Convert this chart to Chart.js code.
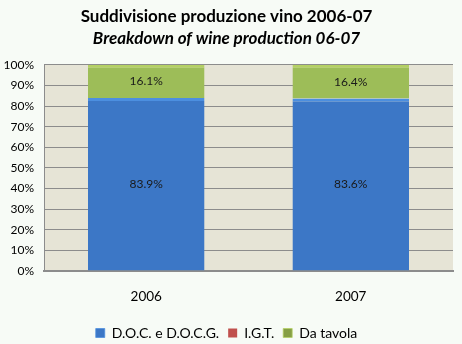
<!DOCTYPE html>
<html>
<head>
<meta charset="utf-8">
<script src="https://cdn.jsdelivr.net/npm/chart.js@4"></script>
<style>
  html, body { margin: 0; padding: 0; background: #f7fbf6; }
  #wrap { width: 462px; height: 344px; }
</style>
</head>
<body>
<div id="wrap"><canvas id="chart"></canvas></div>
<script>
const years = ['2006', '2007'];
const docValues = [83.9, 83.6];
const igtValues = [0, 0];
const tavolaValues = [16.1, 16.4];
const seriesNames = ['D.O.C. e D.O.C.G.', 'I.G.T.', 'Da tavola'];

const FONT = 'Lato, "Open Sans", sans-serif';

// fondo beige dell'area del grafico
const plotBg = {
    id: 'plotBg',
    beforeDraw(chart) {
        const a = chart.chartArea;
        const ctx = chart.ctx;
        ctx.save();
        ctx.fillStyle = '#e6e4d6';
        ctx.fillRect(a.left, a.top, a.right - a.left, a.bottom - a.top);
        ctx.restore();
    }
};

// etichette percentuali al centro delle barre
const barLabels = {
    id: 'barLabels',
    afterDatasetsDraw(chart) {
        const ctx = chart.ctx;
        ctx.save();
        ctx.font = '12px ' + FONT;
        ctx.fillStyle = '#1a1a1a';
        ctx.textAlign = 'center';
        ctx.textBaseline = 'middle';
        chart.data.datasets.forEach((ds, i) => {
            chart.getDatasetMeta(i).data.forEach((bar, j) => {
                const v = ds.data[j];
                if (!v) return;
                const mid = (bar.y + bar.base) / 2;
                ctx.fillText(v.toFixed(1) + '%', bar.x, mid);
            });
        });
        ctx.restore();
    }
};

function vGradient(c1, c2) {
    return (context) => {
        const chart = context.chart;
        const el = context.element;
        if (!chart.chartArea || !el || !Number.isFinite(el.x) || !Number.isFinite(el.width)) return c2;
        const g = chart.ctx.createLinearGradient(el.x - el.width / 2, 0, el.x + el.width / 2, 0);
        g.addColorStop(0, c1);
        g.addColorStop(0.05, c2);
        g.addColorStop(0.95, c2);
        g.addColorStop(1, c1);
        return g;
    };
}

new Chart(document.getElementById('chart'), {
    type: 'bar',
    data: {
        labels: years,
        datasets: [
            {
                label: seriesNames[0],
                data: docValues,
                backgroundColor: vGradient('#2f5f9f', '#3c77c6'),
                borderColor: '#4c8fe0',
                borderWidth: { top: 3, left: 0, right: 0, bottom: 0 },
                borderSkipped: false
            },
            {
                label: seriesNames[1],
                data: igtValues,
                backgroundColor: '#c0504d',
                borderColor: '#9c3b38',
                borderWidth: 0
            },
            {
                label: seriesNames[2],
                data: tavolaValues,
                backgroundColor: vGradient('#869f45', '#9dbd58'),
                borderColor: '#b4d063',
                borderWidth: { top: 3, left: 0, right: 0, bottom: 0 },
                borderSkipped: false
            }
        ]
    },
    options: {
        responsive: true,
        maintainAspectRatio: false,
        animation: false,
        layout: { padding: { left: 0, right: 9, top: 4, bottom: -6 } },
        datasets: { bar: { categoryPercentage: 1, barPercentage: 0.57 } },
        scales: {
            x: {
                stacked: true,
                afterFit(axis) { axis.height = 46; },
                grid: { display: false },
                border: { color: '#8c8c8c', width: 2 },
                ticks: { color: '#000', font: { family: FONT, size: 13.5 }, padding: 10 }
            },
            y: {
                stacked: true,
                min: 0,
                max: 100,
                afterFit(axis) { axis.width = 44; },
                grid: { color: '#8c8c8c', drawTicks: false },
                border: { color: '#8c8c8c' },
                ticks: {
                    stepSize: 10,
                    color: '#000',
                    padding: 10,
                    font: { family: FONT, size: 12 },
                    callback: v => v + '%'
                }
            }
        },
        plugins: {
            title: {
                display: true,
                text: 'Suddivisione produzione vino 2006-07',
                color: '#000',
                font: { family: FONT, size: 17, weight: 'bold' },
                padding: { top: 2, bottom: 2 }
            },
            subtitle: {
                display: true,
                text: 'Breakdown of wine production 06-07',
                color: '#000',
                font: { family: FONT, size: 17, weight: 'bold', style: 'italic' },
                padding: { top: 0, bottom: 16 }
            },
            legend: {
                position: 'bottom',
                labels: {
                    color: '#000',
                    font: { family: FONT, size: 14 },
                    boxWidth: 9,
                    boxHeight: 9,
                    padding: 9,
                    useBorderRadius: false
                }
            },
            tooltip: { enabled: false }
        }
    },
    plugins: [plotBg, barLabels]
});
</script>
</body>
</html>
